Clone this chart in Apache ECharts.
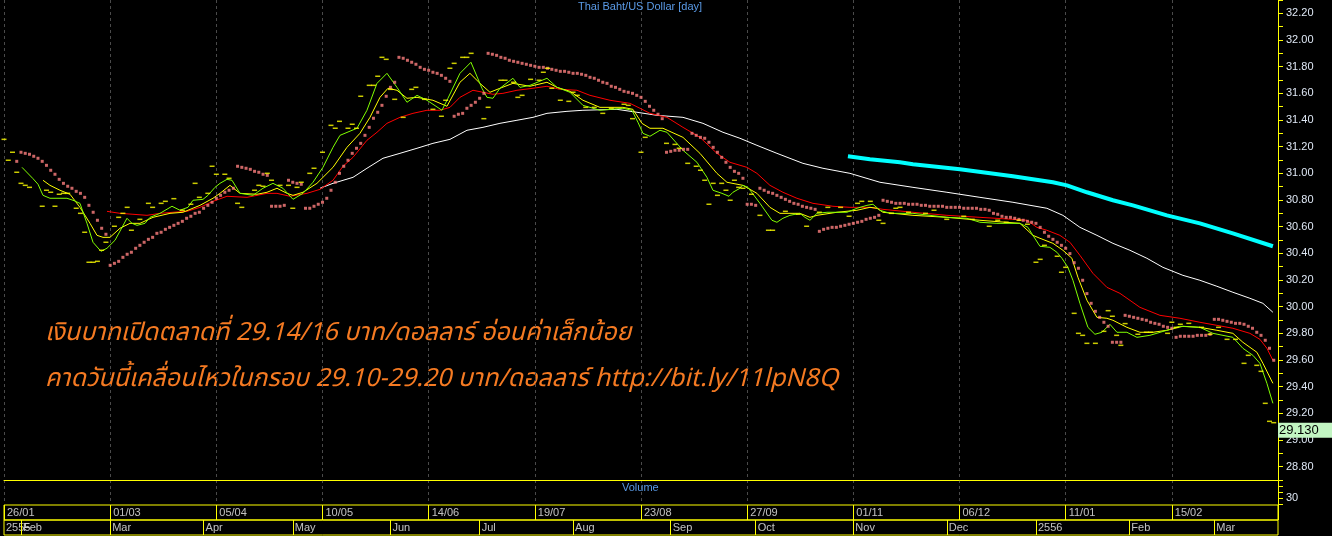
<!DOCTYPE html>
<html><head><meta charset="utf-8">
<script src="https://cdn.jsdelivr.net/npm/echarts@6/dist/echarts.min.js"></script>
<style>html,body{margin:0;padding:0;background:#000;}#c{width:1332px;height:536px;}</style>
</head><body><div id="c"></div>
<script>
// ---------- DATA (x = trading-bar index, y = THB per USD) ----------
const titleText = 'Thai Baht/US Dollar [day]';
const volumeText = 'Volume';
const noteLine1 = 'เงินบาทเปิดตลาดที่ 29.14/16 บาท/ดอลลาร์ อ่อนค่าเล็กน้อย';
const noteLine2 = 'คาดวันนี้เคลื่อนไหวในกรอบ 29.10-29.20 บาท/ดอลลาร์ http://bit.ly/11lpN8Q';

const dateTickBars = [0,25,50,75,100,125,150,175,200,225,250,275];
const dateLabels = ['26/01','01/03','05/04','10/05','14/06','19/07','23/08','27/09','01/11','06/12','11/01','15/02'];
const monthStartBars = [0,4,25,47,68,91,112,134,157,177,200,222,243,265,285];
const monthLabels = ['2555','Feb','Mar','Apr','May','Jun','Jul','Aug','Sep','Oct','Nov','Dec','2556','Feb','Mar'];
const lastPrice = 29.13;
const lastPriceText = '29.130';

const maFast = [[4.24,31.045],[6.83,30.96],[8.01,30.918],[9.18,30.835],[10.83,30.813],[14.83,30.813],[16.25,30.798],[17.89,30.775],[19.54,30.625],[20.96,30.483],[22.84,30.415],[24.25,30.438],[26.14,30.498],[28.96,30.663],[30.14,30.625],[31.32,30.61],[33.2,30.625],[34.38,30.67],[36.73,30.7],[39.56,30.753],[41.44,30.723],[43.32,30.745],[44.5,30.798],[46.86,30.805],[48.03,30.835],[49.68,30.895],[50.86,30.925],[52.51,30.955],[53.69,30.948],[55.57,30.85],[58.63,30.835],[60.98,30.888],[63.34,30.925],[65.69,30.888],[68.05,30.805],[70.4,30.85],[72.76,30.933],[75.11,31.045],[77.47,31.195],[79.12,31.285],[83.12,31.338],[85.47,31.473],[87.83,31.675],[90.18,31.75],[92.54,31.645],[94.89,31.533],[97.25,31.585],[99.6,31.548],[103.13,31.473],[104.54,31.563],[107.37,31.75],[109.96,31.833],[112.55,31.638],[113.73,31.57],[115.14,31.563],[116.79,31.638],[119.85,31.713],[121.5,31.645],[123.85,31.66],[127.86,31.713],[130.21,31.645],[133.27,31.608],[136.33,31.51],[140.33,31.473],[145.75,31.488],[147.87,31.473],[149.28,31.383],[150.46,31.3],[152.11,31.278],[154.47,31.323],[156.11,31.308],[159.88,31.173],[163.17,31.083],[165.53,30.97],[166.94,30.873],[169.06,30.85],[170.71,30.828],[171.65,30.858],[173.3,30.888],[174.0,30.91],[175.18,30.895],[178.01,30.775],[180.83,30.648],[182.01,30.633],[183.42,30.663],[185.07,30.685],[187.43,30.7],[188.61,30.67],[189.79,30.648],[191.43,30.7],[193.79,30.708],[198.5,30.708],[200.85,30.738],[203.2,30.76],[204.62,30.768],[206.27,30.723],[208.62,30.7],[214.04,30.7],[222.04,30.67],[226.75,30.663],[229.81,30.633],[233.81,30.625],[239.23,30.625],[241.11,30.595],[242.29,30.535],[243.94,30.453],[246.29,30.445],[247.94,30.408],[249.12,30.363],[250.53,30.295],[251.71,30.198],[253.36,30.025],[255.24,29.845],[256.89,29.793],[258.54,29.808],[260.42,29.868],[262.07,29.808],[264.42,29.808],[266.78,29.77],[269.84,29.785],[273.84,29.823],[276.9,29.853],[281.61,29.845],[284.67,29.8],[289.38,29.77],[291.73,29.688],[294.09,29.635],[295.74,29.575],[297.39,29.425],[298.8,29.275]];

const maMid = [[9.18,30.948],[10.83,30.91],[13.19,30.873],[15.54,30.843],[17.89,30.745],[20.25,30.625],[21.9,30.535],[23.31,30.52],[24.96,30.52],[27.31,30.588],[29.67,30.625],[32.02,30.625],[35.08,30.67],[39.09,30.7],[42.15,30.708],[46.15,30.76],[49.21,30.813],[50.86,30.85],[53.21,30.91],[55.57,30.85],[59.57,30.843],[61.93,30.858],[64.28,30.888],[66.64,30.85],[68.05,30.835],[70.4,30.858],[73.7,30.925],[77.47,31.045],[80.76,31.195],[83.82,31.3],[86.18,31.42],[88.53,31.57],[90.42,31.638],[92.54,31.623],[94.89,31.563],[97.25,31.57],[101.01,31.548],[104.31,31.503],[107.37,31.683],[109.72,31.75],[112.08,31.675],[114.43,31.608],[116.79,31.638],[119.85,31.675],[123.85,31.653],[127.86,31.683],[130.21,31.645],[133.27,31.615],[136.33,31.548],[140.33,31.495],[145.75,31.495],[148.1,31.48],[150.22,31.375],[152.11,31.338],[155.17,31.338],[159.88,31.27],[163.88,31.15],[167.88,31.0],[170.24,30.933],[174.0,30.91],[177.3,30.85],[180.36,30.745],[182.72,30.7],[187.43,30.7],[189.79,30.67],[191.43,30.685],[196.14,30.708],[200.85,30.723],[203.91,30.745],[205.56,30.738],[206.97,30.708],[214.04,30.685],[222.04,30.67],[229.81,30.648],[239.23,30.625],[242.29,30.535],[243.94,30.513],[247.0,30.475],[249.35,30.423],[251.47,30.363],[252.89,30.22],[255.01,30.048],[257.36,29.92],[259.71,29.913],[261.13,29.898],[264.42,29.845],[267.49,29.808],[270.55,29.808],[273.84,29.823],[277.61,29.853],[281.61,29.845],[285.61,29.823],[289.38,29.8],[291.73,29.733],[295.03,29.658],[296.45,29.575],[298.8,29.425]];

const maSlow = [[24.25,30.715],[27.31,30.7],[30.37,30.693],[33.67,30.685],[36.73,30.7],[39.79,30.708],[43.09,30.715],[46.15,30.745],[49.21,30.79],[52.51,30.828],[57.22,30.82],[61.93,30.85],[64.28,30.85],[67.34,30.828],[71.34,30.85],[74.41,30.88],[77.47,30.948],[79.82,31.053],[82.18,31.12],[85.47,31.248],[87.83,31.308],[90.18,31.375],[93.24,31.42],[96.3,31.45],[99.6,31.473],[102.66,31.473],[105.02,31.495],[107.37,31.57],[110.43,31.623],[112.79,31.608],[115.14,31.593],[117.49,31.6],[120.79,31.623],[124.56,31.638],[127.86,31.653],[130.92,31.63],[134.92,31.623],[137.98,31.585],[142.69,31.548],[147.4,31.525],[149.75,31.488],[152.11,31.45],[156.11,31.42],[159.88,31.345],[163.88,31.27],[167.88,31.15],[170.94,31.083],[174.94,31.045],[177.3,31.0],[180.36,30.91],[183.42,30.858],[186.72,30.813],[190.49,30.775],[195.2,30.753],[199.2,30.745],[203.91,30.745],[206.97,30.73],[214.04,30.708],[222.04,30.685],[229.81,30.67],[237.58,30.655],[240.88,30.648],[243.23,30.595],[245.58,30.573],[248.64,30.535],[251.0,30.483],[253.36,30.385],[256.42,30.25],[259.71,30.145],[262.78,30.1],[267.49,29.995],[272.2,29.935],[276.9,29.913],[281.61,29.883],[285.61,29.86],[289.38,29.838],[293.38,29.8],[295.74,29.755],[297.39,29.688],[298.8,29.598]];

const maLong = [[74.41,30.888],[77.47,30.925],[82.18,30.97],[85.47,31.038],[89.24,31.113],[93.24,31.15],[97.25,31.188],[101.01,31.225],[105.02,31.255],[109.02,31.323],[112.79,31.345],[116.79,31.375],[120.79,31.398],[124.56,31.42],[127.86,31.45],[132.57,31.465],[136.33,31.473],[144.34,31.48],[149.05,31.458],[153.76,31.435],[159.88,31.42],[164.59,31.375],[169.3,31.308],[173.3,31.263],[177.3,31.21],[182.01,31.15],[188.13,31.075],[192.84,31.038],[199.2,31.0],[206.27,30.933],[214.04,30.895],[222.04,30.858],[229.81,30.82],[237.58,30.783],[245.58,30.738],[249.35,30.685],[253.36,30.595],[257.36,30.535],[261.13,30.475],[265.13,30.423],[269.13,30.363],[272.9,30.295],[277.61,30.235],[281.61,30.198],[285.61,30.153],[289.38,30.108],[293.38,30.063],[296.45,30.025],[298.8,29.958]];

const maTrend = [[198.73,31.128],[203.91,31.105],[210.97,31.083],[214.04,31.068],[225.1,31.03],[237.58,30.978],[247.0,30.933],[250.3,30.91],[255.01,30.858],[261.13,30.798],[265.84,30.76],[273.84,30.685],[281.61,30.625],[289.38,30.55],[298.8,30.453]];

const sarRunStarts = [3,4,25,55,63,67,71,93,106,114,156,162,175,178,192,207,261,264,276,285];
const sarRunValues = [
 [31.09],
 [31.158,31.15,31.143,31.128,31.113,31.09,31.06,31.023,30.993,30.955,30.925,30.903,30.888,30.865,30.85,30.82,30.76,30.708,30.648,30.588,30.543],
 [30.31,30.325,30.34,30.37,30.393,30.408,30.438,30.46,30.483,30.505,30.52,30.55,30.558,30.58,30.595,30.61,30.625,30.64,30.663,30.678,30.7,30.708,30.738,30.76,30.783,30.813,30.835,30.858,30.873,30.888],
 [31.053,31.045,31.038,31.03,31.015,31.008,30.993,30.985],
 [30.753,30.753,30.753,30.76],
 [30.948,30.933,30.925,30.918],
 [30.738,30.738,30.753,30.768,30.783,30.813,30.873,30.933,31.0,31.053,31.098,31.15,31.188,31.225,31.285,31.345,31.413,31.458,31.51,31.578,31.645,31.683],
 [31.87,31.863,31.848,31.833,31.818,31.795,31.78,31.773,31.758,31.75,31.735,31.713,31.69],
 [31.428,31.443,31.45,31.488,31.51,31.533,31.563,31.6],
 [31.9,31.893,31.885,31.87,31.863,31.848,31.84,31.833,31.825,31.818,31.81,31.803,31.795,31.795,31.788,31.78,31.773,31.765,31.765,31.758,31.75,31.75,31.743,31.735,31.72,31.713,31.698,31.683,31.675,31.653,31.645,31.63,31.615,31.608,31.6,31.585,31.57,31.54,31.503,31.473,31.443,31.41],
 [31.158,31.165,31.173,31.173,31.18,31.18],
 [31.3,31.285,31.27,31.263,31.233,31.195,31.158,31.12,31.083,31.045,31.015,31.0,30.963],
 [30.768,30.768,30.76],
 [30.888,30.873,30.858,30.85,30.835,30.82,30.805,30.79,30.775,30.768,30.753,30.745,30.738,30.73],
 [30.565,30.58,30.588,30.595,30.595,30.603,30.61,30.618,30.625,30.633,30.64,30.655,30.663,30.67,30.685],
 [30.798,30.79,30.783,30.775,30.775,30.775,30.768,30.768,30.768,30.76,30.76,30.753,30.753,30.753,30.753,30.745,30.745,30.745,30.745,30.738,30.738,30.738,30.738,30.73,30.73,30.723,30.7,30.693,30.678,30.67,30.67,30.663,30.655,30.648,30.64,30.633,30.625,30.595,30.558,30.528,30.505,30.483,30.46,30.438,30.398,30.33,30.288,30.198,30.098,30.025,29.965,29.92,29.883,29.853],
 [29.733,29.733,29.733],
 [29.935,29.928,29.92,29.913,29.905,29.898,29.883,29.875,29.868,29.853,29.845,29.838],
 [29.77,29.778,29.778,29.778,29.778,29.785,29.785,29.785,29.793],
 [29.905,29.905,29.898,29.89,29.883,29.875,29.875,29.868,29.853,29.838,29.808,29.785,29.748,29.688,29.598]
];

const closes = [[0,31.255],[1,31.098],[2,31.158],[3,31.008],[4,30.925],[5,30.91],[6,30.895],[9,30.753],[10,30.873],[11,30.858],[12,30.753],[13,30.843],[14,30.85],[15,30.85],[17,30.738],[18,30.7],[19,30.558],[20,30.333],[21,30.333],[22,30.34],[23,30.423],[24,30.483],[26,30.603],[27,30.67],[28,30.7],[29,30.745],[30,30.573],[32,30.655],[34,30.775],[35,30.745],[37,30.775],[38,30.79],[40,30.81],[42,30.723],[44,30.768],[45,30.925],[46,30.82],[48,30.85],[49,31.053],[50,30.993],[52,30.993],[53,30.963],[55,30.775],[56,30.745],[59,30.873],[60,30.91],[61,30.903],[62,31.0],[63,30.948],[65,30.91],[67,30.91],[68,30.738],[69,30.895],[70,30.933],[72,31.0],[73,31.038],[75,31.158],[77,31.36],[78,31.338],[79,31.39],[81,31.338],[82,31.368],[83,31.338],[84,31.578],[86,31.66],[87,31.66],[88,31.728],[89,31.87],[90,31.855],[91,31.63],[92,31.555],[94,31.42],[96,31.63],[97,31.645],[99,31.555],[101,31.48],[103,31.428],[104,31.548],[105,31.788],[106,31.825],[108,31.87],[109,31.87],[110,31.9],[113,31.41],[114,31.495],[117,31.698],[118,31.698],[120,31.683],[121,31.57],[122,31.585],[124,31.705],[126,31.698],[127,31.758],[128,31.788],[129,31.638],[131,31.548],[133,31.54],[134,31.608],[135,31.585],[137,31.495],[139,31.495],[141,31.45],[143,31.488],[146,31.518],[147,31.51],[148,31.41],[150,31.158],[151,31.27],[156,31.225],[158,31.217],[159,31.188],[161,31.075],[163,31.053],[164,31.023],[165,30.948],[166,30.768],[167,30.925],[168,30.835],[169,30.925],[170,30.873],[171,30.798],[172,30.948],[173,30.895],[174,30.888],[176,30.843],[178,30.685],[180,30.573],[181,30.573],[184,30.715],[187,30.693],[189,30.603],[192,30.708],[194,30.745],[197,30.745],[199,30.678],[201,30.775],[202,30.79],[204,30.79],[206,30.648],[207,30.625],[209,30.7],[210,30.738],[211,30.745],[213,30.708],[217,30.7],[219,30.723],[222,30.655],[226,30.678],[228,30.655],[232,30.603],[234,30.648],[236,30.633],[239,30.648],[241,30.618],[243,30.333],[244,30.355],[245,30.46],[248,30.378],[249,30.258],[250,30.295],[252,29.95],[253,29.8],[254,29.785],[255,29.725],[257,29.725],[259,29.815],[260,29.97],[261,29.928],[262,29.785],[263,29.71],[264,29.873],[267,29.793],[269,29.808],[270,29.808],[274,29.8],[275,29.883],[276,29.845],[277,29.868],[279,29.875],[282,29.845],[284,29.793],[286,29.845],[288,29.755],[290,29.755],[292,29.575],[293,29.635],[295,29.56],[296,29.515],[297,29.275],[298,29.14],[299,29.13]];

// ---------- BUILD ----------
const sarData = [];
sarRunStarts.forEach((s, r) => sarRunValues[r].forEach((v, k) => sarData.push([s + k, v])));

const FONT = '"Liberation Sans", Arial, sans-serif';
const THAI_FONT = 'italic 25px Tahoma, "Noto Sans Thai", Loma, Garuda, "Noto Sans", sans-serif';
const chart = echarts.init(document.getElementById('c'), null, {renderer: 'canvas'});
const xBase = {type: 'value', min: 0, max: 300, interval: 25, axisTick: {show: false}, axisLabel: {show: false}, axisLine: {show: false}, splitLine: {show: false}};
const grayDash = {show: true, lineStyle: {color: '#4a4a4a', type: [3, 3], width: 1}};

chart.setOption({
  backgroundColor: '#000000',
  animation: false,
  title: [
    {text: titleText, left: 578, top: 1, padding: 0, textStyle: {color: '#5a9ae6', fontSize: 11, fontWeight: 'normal', fontFamily: FONT}},
    {text: volumeText, left: 622, top: 482, padding: 0, textStyle: {color: '#5a9ae6', fontSize: 11, fontWeight: 'normal', fontFamily: FONT}}
  ],
  grid: [
    {left: 4, right: 54, top: 0, height: 480},
    {left: 4, right: 54, top: 480, height: 24},
    {left: 4, right: 54, top: 505, height: 15, show: true, borderColor: '#ffff00', borderWidth: 1, backgroundColor: 'transparent'},
    {left: 4, right: 54, top: 520, height: 15, show: true, borderColor: '#ffff00', borderWidth: 1, backgroundColor: 'transparent'}
  ],
  xAxis: [
    Object.assign({}, xBase, {gridIndex: 0, splitLine: grayDash}),
    Object.assign({}, xBase, {gridIndex: 1, position: 'top', splitLine: grayDash, axisLine: {show: true, onZero: false, lineStyle: {color: '#ffff00', width: 1}}}),
    Object.assign({}, xBase, {gridIndex: 2, splitLine: {show: true, lineStyle: {color: '#ffff00', width: 1, type: 'solid'}}}),
    Object.assign({}, xBase, {gridIndex: 3})
  ],
  yAxis: [
    {gridIndex: 0, type: 'value', position: 'right', min: 28.7, max: 32.3, interval: 0.1,
     axisLine: {show: true, onZero: false, lineStyle: {color: '#ffff00', width: 1}},
     axisTick: {show: true, length: 5, lineStyle: {color: '#ffff00'}},
     axisLabel: {margin: 8, color: '#dfe8f5', fontSize: 11, fontFamily: FONT,
       formatter: v => (Math.round(v * 10) % 2 === 0 ? v.toFixed(2) : '')},
     splitLine: {show: false}},
    {gridIndex: 1, type: 'value', position: 'right', min: 25, max: 45, interval: 5,
     axisLine: {show: true, onZero: false, lineStyle: {color: '#ffff00', width: 1}},
     axisTick: {show: true, length: 5, lineStyle: {color: '#ffff00'}},
     axisLabel: {margin: 8, color: '#dfe8f5', fontSize: 11, fontFamily: FONT,
       formatter: v => (Math.round(v) === 30 ? '30' : '')},
     splitLine: {show: false}},
    {gridIndex: 2, type: 'value', min: 0, max: 1, show: false},
    {gridIndex: 3, type: 'value', min: 0, max: 1, show: false}
  ],
  graphic: [
    {type: 'text', left: 45, top: 322, silent: true, style: {text: noteLine1, fill: '#f57a22', font: THAI_FONT}},
    {type: 'text', left: 45, top: 368, silent: true, style: {text: noteLine2, fill: '#f57a22', font: THAI_FONT}}
  ],
  series: [
    {type: 'line', name: 'long', data: maLong, showSymbol: false, silent: true, z: 2, lineStyle: {color: '#ffffff', width: 1}},
    {type: 'line', name: 'trend', data: maTrend, showSymbol: false, silent: true, z: 2, lineStyle: {color: '#00ffff', width: 4}},
    {type: 'line', name: 'slow', data: maSlow, showSymbol: false, silent: true, z: 3, lineStyle: {color: '#ff0000', width: 1}},
    {type: 'line', name: 'mid', data: maMid, showSymbol: false, silent: true, z: 3, lineStyle: {color: '#ffff00', width: 1}},
    {type: 'line', name: 'fast', data: maFast, showSymbol: false, silent: true, z: 4, lineStyle: {color: '#80ff00', width: 1}},
    {type: 'scatter', name: 'sar', data: sarData, symbol: 'rect', symbolSize: [3, 3], silent: true, z: 5, itemStyle: {color: '#ff8080'}},
    {type: 'scatter', name: 'close', data: closes, symbol: 'rect', symbolSize: [5, 1.5], silent: true, z: 5, itemStyle: {color: '#ffff00'},
     markLine: {silent: true, symbol: 'none', lineStyle: {color: 'rgba(0,0,0,0)', width: 1},
       label: {show: true, position: 'end', distance: 0, formatter: lastPriceText, color: '#000000', fontSize: 13, fontFamily: FONT,
               backgroundColor: '#c2f5c2', padding: [1, 14, 1, 1], verticalAlign: 'top', align: 'left'},
       data: [{yAxis: lastPrice}]}},
    {type: 'scatter', name: 'dates', xAxisIndex: 2, yAxisIndex: 2, silent: true, symbolSize: 0,
     data: dateTickBars.map(b => [b, 0.5]),
     label: {show: true, position: 'right', distance: 3, color: '#f0f0f0', fontSize: 11, fontFamily: FONT,
             formatter: p => dateLabels[p.dataIndex]}},
    {type: 'scatter', name: 'months', xAxisIndex: 3, yAxisIndex: 3, silent: true, symbolSize: 0,
     data: monthStartBars.map(b => [b, 0.5]),
     label: {show: true, position: 'right', distance: 2, color: '#f0f0f0', fontSize: 11, fontFamily: FONT,
             formatter: p => monthLabels[p.dataIndex]},
     markLine: {silent: true, symbol: 'none', label: {show: false}, lineStyle: {color: '#ffff00', width: 1, type: 'solid'},
       data: monthStartBars.slice(1).map(b => ({xAxis: b}))}}
  ]
});
</script></body></html>
